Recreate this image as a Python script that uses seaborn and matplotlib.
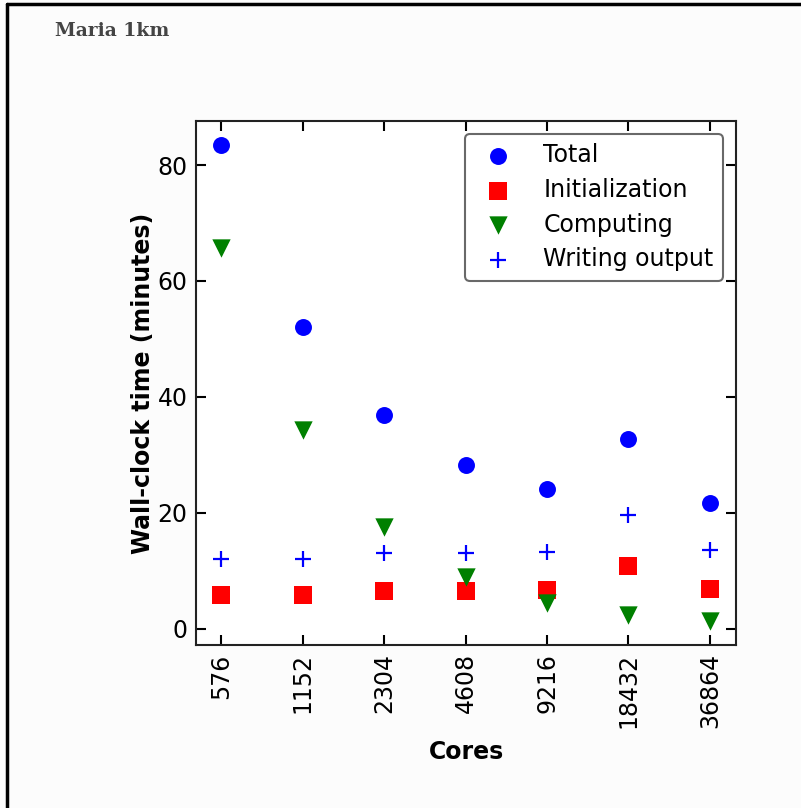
import matplotlib
matplotlib.use("Agg")
import matplotlib.pyplot as plt
from matplotlib.lines import Line2D
import seaborn as sns
import pandas as pd

cores = ["576", "1152", "2304", "4608", "9216", "18432", "36864"]
total = [83.4, 52.1, 36.9, 28.3, 24.1, 32.8, 21.7]
initialization = [5.9, 5.9, 6.5, 6.5, 6.7, 10.9, 6.9]
computing = [65.7, 34.3, 17.6, 9.0, 4.5, 2.4, 1.4]
writing_output = [12.1, 12.1, 13.0, 13.1, 13.3, 19.7, 13.6]

sns.set_style("white")
plt.rcParams['font.family'] = ['DejaVu Sans']
plt.rcParams['text.color'] = 'black'
plt.rcParams['axes.labelcolor'] = 'black'
plt.rcParams['xtick.color'] = 'black'
plt.rcParams['ytick.color'] = 'black'

FS = 17

fig = plt.figure(figsize=(8.01, 8.08), dpi=100)
fig.patch.set_facecolor("#fcfcfc")
ax = fig.add_axes([196/801, 1-645/808, 540/801, 524/808])
ax.set_facecolor("white")

series = [
    ("Total", total, "o", "blue", 12.2),
    ("Initialization", initialization, "s", "red", 12.5),
    ("Computing", computing, "v", "green", 13.2),
    ("Writing output", writing_output, "+", "blue", 11),
]
for name, vals, mk, col, ms in series:
    df = pd.DataFrame({"Cores": cores, "val": vals})
    if mk == "+":
        sns.scatterplot(data=df, x="Cores", y="val", marker=mk, color=col, s=ms**2,
                        linewidth=1.6, label=name, ax=ax)
    else:
        sns.scatterplot(data=df, x="Cores", y="val", marker=mk, color=col, s=ms**2,
                        linewidth=0, label=name, ax=ax)

ax.set_xlim(-0.31, 6.32)
ax.set_ylim(-2.8, 87.6)
ax.set_yticks([0, 20, 40, 60, 80])
ax.tick_params(axis="both", direction="in", length=7, width=1.5, labelsize=FS,
               top=True, right=True, bottom=True, left=True, pad=6)
ax.tick_params(axis="x", labelrotation=90)
for s in ax.spines.values():
    s.set_linewidth(1.5)
    s.set_color("#222222")
ax.set_xlabel("Cores", fontsize=FS, fontweight="bold", labelpad=8)
ax.set_ylabel("Wall-clock time (minutes)", fontsize=FS, fontweight="bold", labelpad=2)

leg = ax.legend(loc="upper right", fontsize=FS, frameon=True, fancybox=True,
                labelspacing=0.45, handletextpad=0.9, borderpad=0.4,
                borderaxespad=0.55, handlelength=2.0)
leg.get_frame().set_edgecolor("#444444")
leg.get_frame().set_linewidth(1.5)

fig.text(55/801, 1-31/808, "Maria 1km", fontsize=13.5, fontweight="bold",
         family=["DejaVu Serif"], color="#444444", va="center")

fig.add_artist(Line2D([7/801, 7/801], [-0.01, 1-4/808], color="black", lw=2.5,
                      transform=fig.transFigure))
fig.add_artist(Line2D([7/801, 1.01], [1-4/808, 1-4/808], color="black", lw=2.5,
                      transform=fig.transFigure))

fig.savefig("out.png", dpi=100, facecolor=fig.get_facecolor())
